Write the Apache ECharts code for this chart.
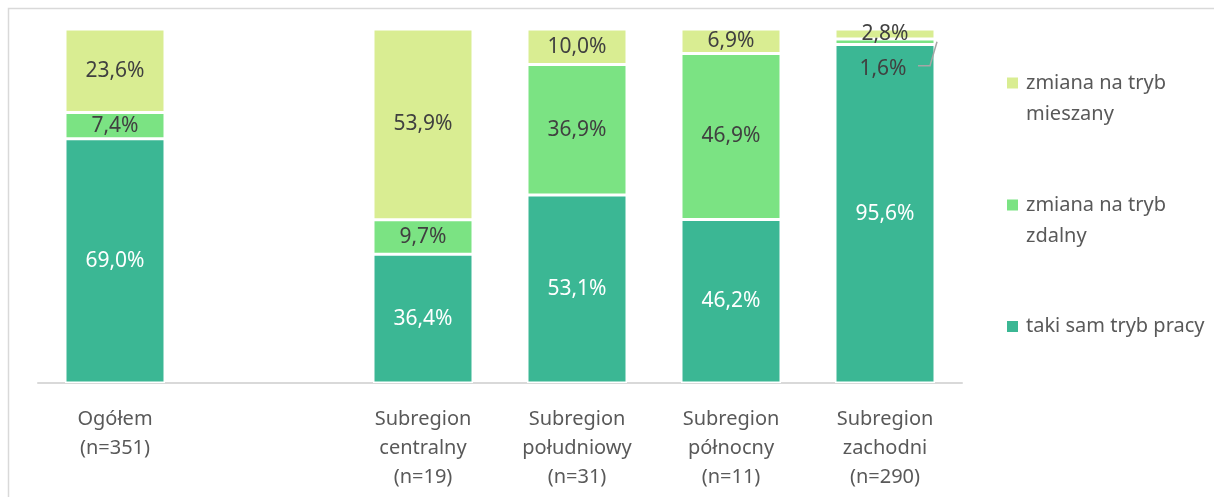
<!DOCTYPE html>
<html>
<head>
<meta charset="utf-8">
<script src="https://cdn.jsdelivr.net/npm/echarts@6/dist/echarts.min.js"></script>
<style>
  html, body { margin: 0; padding: 0; background: #fff; }
  #chart { width: 1214px; height: 497px; }
</style>
</head>
<body>
<div id="chart"></div>
<script>
// Categories (an empty slot separates the total from the subregions)
const categories = [
  'Ogółem\n(n=351)',
  '',
  'Subregion\ncentralny\n(n=19)',
  'Subregion\npołudniowy\n(n=31)',
  'Subregion\npółnocny\n(n=11)',
  'Subregion\nzachodni\n(n=290)'
];

// Shares in percent
const takiSam  = [69.0, null, 36.4, 53.1, 46.2, 95.6];
const zdalny   = [7.4,  null, 9.7,  36.9, 46.9, 1.6];
const mieszany = [23.6, null, 53.9, 10.0, 6.9,  2.8];

const seriesNames = ['taki sam tryb pracy', 'zmiana na tryb zdalny', 'zmiana na tryb mieszany'];
// a blank first line keeps the first text line level with the legend square
const legendLabels = [' \ntaki sam tryb pracy\n ', ' \nzmiana na tryb\nzdalny', ' \nzmiana na tryb\nmieszany'];

const COLORS = ['#3bb794', '#7be383', '#d9ed92'];
const FONT = 'Noto Sans';
const fmt = v => v.value == null ? '' : v.value.toFixed(1).replace('.', ',') + '%';

const chart = echarts.init(document.getElementById('chart'));

function barSeries(name, values, color, labelColor) {
  return {
    name: name,
    type: 'bar',
    stack: 'total',
    barWidth: 100,
    data: values.map(v => v),
    itemStyle: { color: color, borderColor: '#ffffff', borderWidth: 1.5 },
    label: {
      show: true,
      position: 'inside',
      formatter: fmt,
      color: labelColor,
      fontFamily: FONT,
      fontSize: 21
    },
    emphasis: { disabled: true }
  };
}

const s0 = barSeries(seriesNames[0], takiSam, COLORS[0], '#ffffff');
const s1 = barSeries(seriesNames[1], zdalny, COLORS[1], '#404040');
const s2 = barSeries(seriesNames[2], mieszany, COLORS[2], '#404040');
// the thin 1,6% slice gets its label moved below the slice
const LABEL_SHIFT = 27;
s1.data[5] = { value: zdalny[5], label: { offset: [-2, LABEL_SHIFT] } };

function legendFor(i, top) {
  return {
    orient: 'vertical',
    left: 1007,
    top: top,
    padding: 0,
    itemWidth: 11,
    itemHeight: 11,
    itemGap: 0,
    icon: 'rect',
    selectedMode: false,
    itemStyle: { borderWidth: 0 },
    formatter: () => legendLabels[i],
    textStyle: {
      fontFamily: FONT,
      fontSize: 20,
      color: '#595959',
      lineHeight: 31,
      padding: [0, 0, 0, 3]
    },
    data: [seriesNames[i]]
  };
}

const frame = {
  type: 'rect',
  silent: true,
  shape: { x: 8.5, y: 8.5, width: 1400, height: 700 },
  style: { fill: 'none', stroke: '#d9d9d9', lineWidth: 1.5 }
};

chart.setOption({
  animation: false,
  textStyle: { fontFamily: FONT },
  grid: { left: 38, right: 252, top: 29, bottom: 114, containLabel: false },
  xAxis: {
    type: 'category',
    data: categories,
    axisLine: { lineStyle: { color: '#d9d9d9', width: 2 } },
    axisTick: { show: false },
    axisLabel: {
      interval: 0,
      color: '#595959',
      fontFamily: FONT,
      fontSize: 20,
      lineHeight: 29,
      margin: 22
    }
  },
  yAxis: {
    type: 'value',
    min: 0,
    max: 100,
    show: false
  },
  legend: [
    legendFor(2, 36.5),
    legendFor(1, 158.5),
    legendFor(0, 280)
  ],
  series: [s0, s1, s2],
  graphic: [frame]
});

// Leader line from the 1,6% slice to its displaced label
(function () {
  const idx = 5;
  const midVal = takiSam[idx] + zdalny[idx] / 2;
  const center = chart.convertToPixel({ xAxisIndex: 0, yAxisIndex: 0 }, [idx, midVal]);
  const labelY = center[1] + LABEL_SHIFT - 3;
  const right = center[0] + 50;
  chart.setOption({
    graphic: [frame, {
      type: 'polyline',
      silent: true,
      z: 100,
      shape: { points: [[right + 2, center[1]], [right - 5, labelY], [right - 17, labelY]] },
      style: { stroke: '#a6a6a6', lineWidth: 1.5, fill: 'none' }
    }]
  });
})();
</script>
</body>
</html>
